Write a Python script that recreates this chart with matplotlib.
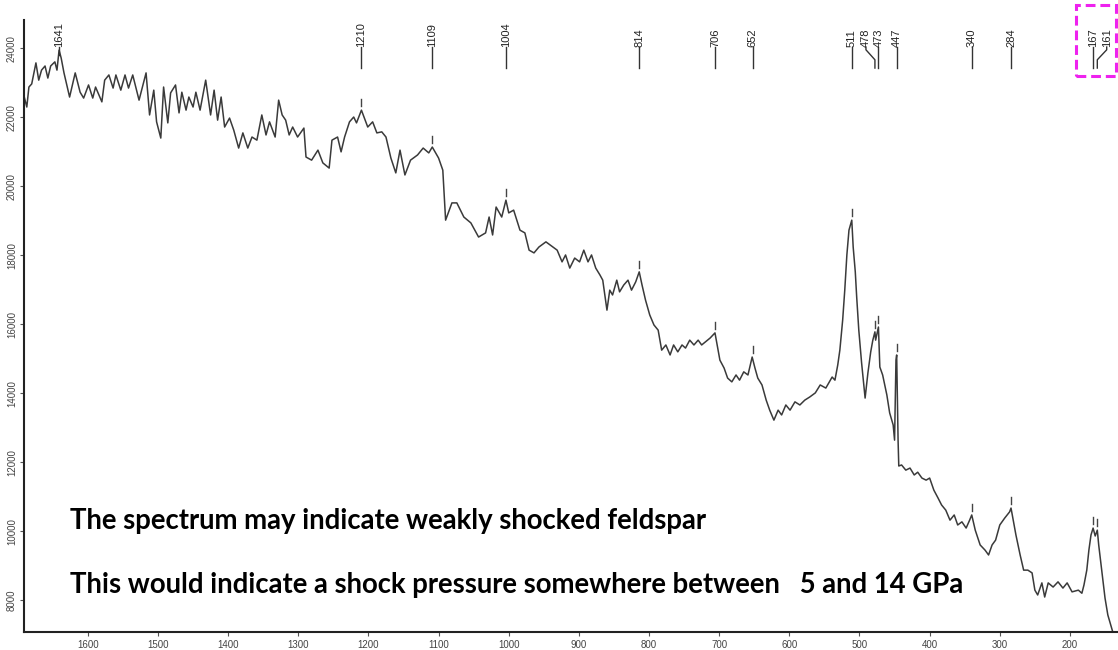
import numpy as np
import matplotlib.pyplot as plt
from matplotlib.patches import Rectangle

# Raman shift (cm-1) and counts
wavenumber = [1691, 1687, 1684, 1680, 1674, 1670, 1666, 1661, 1657, 1653, 1647, 1644, 1641, 1638, 1634,
              1626, 1618, 1611, 1606, 1599, 1593, 1589, 1580, 1576, 1570, 1564, 1560, 1553, 1547, 1542,
              1536, 1527, 1517, 1512, 1506, 1502, 1496, 1492, 1486, 1482, 1475, 1470, 1466, 1460, 1456,
              1450, 1446, 1440, 1432, 1425, 1420, 1415, 1410, 1405, 1398, 1392, 1385, 1379, 1372, 1366,
              1359, 1352, 1346, 1341, 1333, 1328, 1323, 1318, 1313, 1308, 1301, 1292, 1289, 1281, 1272,
              1265, 1256, 1252, 1244, 1239, 1234, 1227, 1221, 1217, 1210, 1201, 1194, 1188, 1181, 1175,
              1168, 1161, 1155, 1148, 1140, 1130, 1122, 1114, 1109, 1100, 1094, 1090, 1081, 1074, 1064,
              1054, 1043, 1033, 1028, 1023, 1018, 1010, 1004, 1000, 993, 984, 977, 971, 964, 957,
              947, 931, 924, 919, 913, 906, 899, 893, 887, 882, 876, 870, 866, 860, 856,
              852, 846, 842, 836, 830, 825, 819, 814, 810, 805, 799, 793, 787, 782, 776,
              770, 765, 759, 753, 748, 742, 736, 730, 725, 713, 706, 699, 693, 688, 682,
              676, 671, 665, 659, 653, 649, 645, 639, 633, 628, 622, 616, 611, 605, 599,
              592, 585, 578, 571, 563, 556, 548, 539, 535, 531, 528, 524, 521, 518, 515,
              511, 509, 506, 504, 501, 497, 492, 488, 484, 481, 478, 477, 473, 471, 467,
              461, 457, 452, 450, 448, 447, 445, 444, 440, 434, 428, 422, 417, 411, 405,
              400, 394, 388, 383, 377, 371, 365, 360, 354, 348, 343, 340, 335, 328, 321,
              316, 311, 306, 300, 293, 286, 284, 277, 271, 266, 260, 254, 250, 246, 240,
              236, 231, 224, 217, 210, 204, 197, 188, 183, 180, 176, 173, 170, 167, 164,
              161, 159, 154, 150, 146, 141, 139]
intensity = [22620, 22300, 22880, 22970, 23580, 23080, 23370, 23490, 23140, 23490, 23610, 23370, 23950, 23720, 23290,
             22590, 23290, 22730, 22560, 22940, 22560, 22880, 22450, 23080, 23230, 22850, 23230, 22790, 23230, 22850,
             23230, 22500, 23290, 22070, 22790, 21870, 21400, 22880, 21840, 22710, 22940, 22130, 22730, 22210, 22590,
             22300, 22730, 22210, 23080, 22070, 22790, 21920, 22590, 21720, 21980, 21630, 21110, 21550, 21110, 21430,
             21340, 22070, 21490, 21870, 21430, 22500, 22070, 21920, 21490, 21720, 21430, 21690, 20850, 20760, 21050,
             20680, 20530, 21340, 21430, 21000, 21430, 21870, 22010, 21840, 22210, 21720, 21870, 21550, 21580, 21430,
             20820, 20390, 21050, 20330, 20760, 20910, 21110, 20970, 21140, 20820, 20470, 19020, 19520, 19520, 19110,
             18940, 18530, 18650, 19110, 18590, 19400, 19110, 19600, 19230, 19310, 18730, 18650, 18150, 18070, 18240,
             18390, 18150, 17810, 18010, 17630, 17920, 17810, 18150, 17810, 18010, 17630, 17430, 17280, 16410, 16990,
             16850, 17280, 16940, 17140, 17280, 16990, 17230, 17520, 17140, 16700, 16270, 15980, 15830, 15250, 15400,
             15110, 15400, 15200, 15400, 15310, 15540, 15400, 15540, 15400, 15600, 15750, 14960, 14730, 14440, 14330,
             14530, 14380, 14620, 14530, 15050, 14730, 14440, 14240, 13800, 13510, 13220, 13510, 13370, 13660, 13510,
             13750, 13660, 13800, 13890, 14010, 14240, 14150, 14470, 14380, 14820, 15250, 16120, 16990, 18010, 18730,
             19020, 18240, 17520, 16790, 15830, 14880, 13860, 14590, 15200, 15540, 15780, 15540, 15920, 14760, 14530,
             13950, 13430, 13080, 12640, 14960, 15110, 12640, 11890, 11920, 11770, 11830, 11630, 11710, 11540, 11480,
             11540, 11190, 10960, 10760, 10610, 10320, 10470, 10180, 10270, 10090, 10320, 10470, 10030, 9600, 9450,
             9310, 9600, 9740, 10180, 10380, 10560, 10670, 9890, 9310, 8870, 8870, 8790, 8290, 8150, 8500,
             8090, 8500, 8380, 8530, 8350, 8500, 8240, 8290, 8200, 8440, 8870, 9450, 9890, 10090, 9860,
             10030, 9600, 8730, 8060, 7570, 7220, 7080]

# peak positions printed above the spectrum
peak_labels = [1641, 1210, 1109, 1004, 814, 706, 652, 511, 478, 473, 447, 340, 284, 167, 161]
# labels that are pushed sideways and joined with a kinked leader
label_shift = {478: 12.8, 161: -13.4}

x_ticks = list(range(200, 1700, 100))
y_ticks = list(range(8000, 26000, 2000))

note_1 = "The spectrum may indicate weakly shocked feldspar"
note_2 = "This would indicate a shock pressure somewhere between   5 and 14 GPa"

wn = np.array(wavenumber, dtype=float)
counts = np.array(intensity, dtype=float)

fig = plt.figure(figsize=(11.18, 6.5), dpi=100)
ax = fig.add_axes([24 / 1118, 18 / 650, 1 - 24 / 1118, 612 / 650])

ax.plot(wn, counts, color="#3a3a3a", lw=1.1)
ax.set_xlim(1691, 131.5)
ax.set_ylim(7076, 24824)

ax.set_xticks(x_ticks)
ax.set_yticks(y_ticks)
ax.tick_params(length=3, width=0.8, color="#555555", labelcolor="#444444", labelsize=7)
ax.tick_params(axis="x", pad=3)
ax.tick_params(axis="y", pad=2)
for lbl in ax.get_xticklabels() + ax.get_yticklabels():
    lbl.set_family("Liberation Sans")
for lbl in ax.get_yticklabels():
    lbl.set_rotation(90)
    lbl.set_va("center")
    lbl.set_ha("right")

for side in ["top", "right"]:
    ax.spines[side].set_visible(False)
for side in ["left", "bottom"]:
    ax.spines[side].set_color("#222222")
    ax.spines[side].set_linewidth(1.5)

# peak labels with their leaders, plus the small tick just above each peak
text_base, kink_top, kink_low, line_low = 24040, 23960, 23670, 23430
for p in peak_labels:
    near = np.abs(wn - p) <= 3
    top = counts[near].max() if near.any() else np.interp(p, wn[::-1], counts[::-1])
    tx = p + label_shift.get(p, 0)
    ax.text(tx, text_base, str(p), rotation=90, ha="center", va="bottom",
            fontsize=8, family="Liberation Sans", color="#222222", clip_on=False)
    end = max(line_low, top - 150)
    if p in label_shift:
        ax.plot([tx, tx, p, p], [text_base, kink_top, kink_low, end], color="#333333", lw=1)
    else:
        ax.plot([p, p], [text_base, end], color="#333333", lw=1)
    if top < line_low - 400:
        ax.plot([p, p], [top + 120, top + 320], color="#444444", lw=1)

ax.text(0.042, 0.181, note_1, transform=ax.transAxes, ha="left", va="center",
        fontsize=19.8, fontweight="bold", family="Lato", color="black")
ax.text(0.042, 0.077, note_2, transform=ax.transAxes, ha="left", va="center",
        fontsize=19.8, fontweight="bold", family="Lato", color="black")

# highlight box around the 167 / 161 labels
fig.patches.append(Rectangle((1076 / 1118, 1 - 76 / 650), 40 / 1118, 71 / 650,
                             transform=fig.transFigure, fill=False, ec="#ee22ee",
                             lw=2.2, ls=(0, (3.2, 1.6))))

fig.savefig("out.png", dpi=100)
